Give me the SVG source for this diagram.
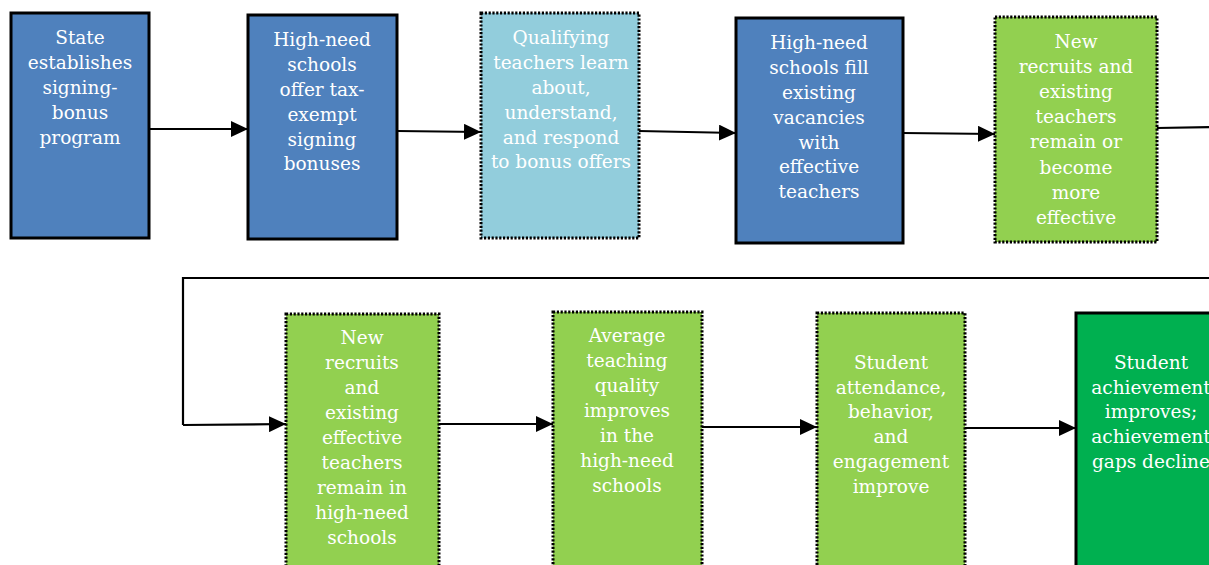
<svg xmlns="http://www.w3.org/2000/svg" width="1209" height="565" viewBox="0 0 1209 565">
<style>
.box{stroke:#000;stroke-width:3}
.dot{stroke:#000;stroke-width:3;stroke-dasharray:2.2 1.6}
.blue{fill:#4F81BD}
.lblue{fill:#92CDDC}
.lgreen{fill:#92D050}
.green{fill:#00B050}
text{font-family:"DejaVu Serif","Liberation Serif",serif;font-size:18.5px;fill:#fff;text-anchor:middle}
.conn{stroke:#000;stroke-width:2.2;fill:none}
</style>
<defs>
<marker id="ah" markerUnits="userSpaceOnUse" markerWidth="18" markerHeight="16" refX="17" refY="8" orient="auto">
<path d="M0,0 L17,8 L0,16 Z" fill="#000"/>
</marker>
</defs>
<g id="connectors">
<line class="conn" x1="149" y1="129" x2="248" y2="129" marker-end="url(#ah)"/>
<line class="conn" x1="397" y1="131" x2="481" y2="132" marker-end="url(#ah)"/>
<line class="conn" x1="639" y1="131" x2="736" y2="133" marker-end="url(#ah)"/>
<line class="conn" x1="903" y1="133" x2="995" y2="134" marker-end="url(#ah)"/>
<line class="conn" x1="1157" y1="128" x2="1212" y2="127"/>
<polyline class="conn" points="1212,278 183,278 183,425"/>
<line class="conn" x1="183" y1="425" x2="286" y2="424" marker-end="url(#ah)"/>
<line class="conn" x1="439" y1="424" x2="553" y2="424" marker-end="url(#ah)"/>
<line class="conn" x1="702" y1="427" x2="817" y2="427" marker-end="url(#ah)"/>
<line class="conn" x1="965" y1="428" x2="1076" y2="428" marker-end="url(#ah)"/>
</g>
<g id="n1">
<rect class="box blue" x="11" y="13" width="138" height="225"/>
<text x="80" y="44">State</text>
<text x="80" y="69">establishes</text>
<text x="80" y="94">signing-</text>
<text x="80" y="119">bonus</text>
<text x="80" y="144">program</text>
</g>
<g id="n2">
<rect class="box blue" x="248" y="15" width="149" height="224"/>
<text x="322" y="46">High-need</text>
<text x="322" y="71">schools</text>
<text x="322" y="96">offer tax-</text>
<text x="322" y="121">exempt</text>
<text x="322" y="146">signing</text>
<text x="322" y="170">bonuses</text>
</g>
<g id="n3">
<rect class="dot lblue" x="481" y="13" width="158" height="225"/>
<text x="561" y="44">Qualifying</text>
<text x="561" y="69">teachers learn</text>
<text x="561" y="94">about,</text>
<text x="561" y="119">understand,</text>
<text x="561" y="144">and respond</text>
<text x="561" y="168">to bonus offers</text>
</g>
<g id="n4">
<rect class="box blue" x="736" y="18" width="167" height="225"/>
<text x="819" y="49">High-need</text>
<text x="819" y="74">schools fill</text>
<text x="819" y="99">existing</text>
<text x="819" y="124">vacancies</text>
<text x="819" y="149">with</text>
<text x="819" y="173">effective</text>
<text x="819" y="198">teachers</text>
</g>
<g id="n5">
<rect class="dot lgreen" x="995" y="17" width="162" height="225"/>
<text x="1076" y="48">New</text>
<text x="1076" y="73">recruits and</text>
<text x="1076" y="98">existing</text>
<text x="1076" y="123">teachers</text>
<text x="1076" y="148">remain or</text>
<text x="1076" y="174">become</text>
<text x="1076" y="199">more</text>
<text x="1076" y="224">effective</text>
</g>
<g id="n6">
<rect class="dot lgreen" x="286" y="314" width="153" height="262"/>
<text x="362" y="344">New</text>
<text x="362" y="369">recruits</text>
<text x="362" y="394">and</text>
<text x="362" y="419">existing</text>
<text x="362" y="444">effective</text>
<text x="362" y="469">teachers</text>
<text x="362" y="494">remain in</text>
<text x="362" y="519">high-need</text>
<text x="362" y="544">schools</text>
</g>
<g id="n7">
<rect class="dot lgreen" x="553" y="312" width="149" height="264"/>
<text x="627" y="342">Average</text>
<text x="627" y="367">teaching</text>
<text x="627" y="392">quality</text>
<text x="627" y="417">improves</text>
<text x="627" y="442">in the</text>
<text x="627" y="467">high-need</text>
<text x="627" y="492">schools</text>
</g>
<g id="n8">
<rect class="dot lgreen" x="817" y="313" width="148" height="263"/>
<text x="891" y="369">Student</text>
<text x="891" y="394">attendance,</text>
<text x="891" y="418">behavior,</text>
<text x="891" y="443">and</text>
<text x="891" y="468">engagement</text>
<text x="891" y="493">improve</text>
</g>
<g id="n9">
<rect class="box green" x="1076" y="313" width="140" height="263"/>
<text x="1151" y="369">Student</text>
<text x="1151" y="394">achievement</text>
<text x="1151" y="418">improves;</text>
<text x="1151" y="443">achievement</text>
<text x="1151" y="468">gaps decline</text>
</g>
</svg>
